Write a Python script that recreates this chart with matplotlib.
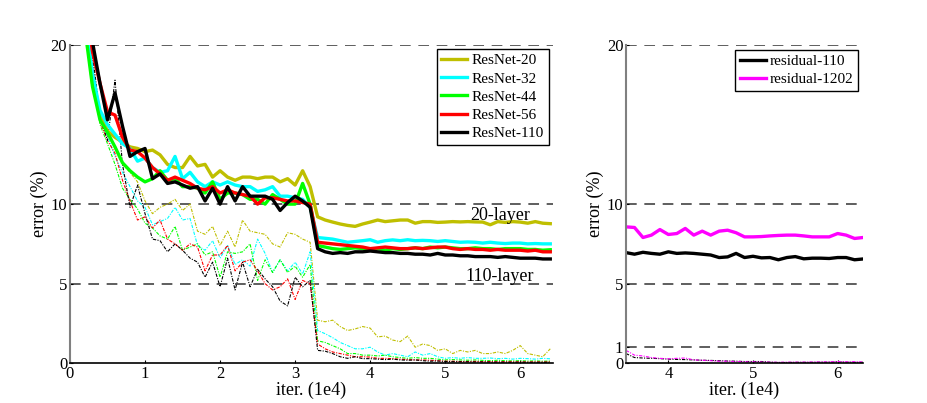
import numpy as np
import matplotlib
matplotlib.use('Agg')
import matplotlib.pyplot as plt

plt.rcParams['font.family'] = ['Liberation Serif', 'DejaVu Serif']

# iterations (1e4), one sample every 1000 iters
iters = np.round(np.arange(0.2, 6.41, 0.1), 1)

# test error (%) - thick lines
test_20 = [22, 17.6, 15.7, 14.6, 14.2, 13.9, 13.6, 13.5, 13.3, 13.4, 13.1, 12.5, 12.3, 12.3, 13.0,
           12.4, 12.5, 11.7, 12.1, 11.7, 11.5, 11.7, 11.7, 11.6, 11.7, 11.7, 11.4, 11.6, 11.2, 12.1,
           11.1, 9.2, 9.0, 8.87, 8.75, 8.66, 8.6, 8.75, 8.87, 9.0, 8.9, 8.95, 9.0, 9.0, 8.8, 8.9,
           8.9, 8.85, 8.87, 8.9, 8.88, 8.9, 8.88, 8.87, 8.7, 8.9, 8.85, 8.9, 8.87, 8.8, 8.9, 8.8, 8.77]
test_32 = [22, 18.2, 15.9, 15.0, 14.4, 13.8, 13.5, 12.7, 12.9, 12.3, 12.0, 12.1, 13.0, 11.6, 12.0,
           11.4, 11.1, 11.4, 11.2, 11.4, 11.2, 11.1, 11.1, 10.8, 10.9, 11.1, 10.5, 10.5, 10.4, 10.3,
           9.8, 7.9, 7.85, 7.8, 7.7, 7.6, 7.65, 7.7, 7.76, 7.6, 7.7, 7.75, 7.7, 7.76, 7.7, 7.72,
           7.7, 7.65, 7.7, 7.65, 7.6, 7.62, 7.6, 7.55, 7.6, 7.55, 7.52, 7.55, 7.55, 7.5, 7.52, 7.5, 7.5]
test_44 = [21, 17.4, 15.3, 14.5, 13.6, 12.6, 12.1, 11.7, 11.4, 11.6, 12.1, 11.5, 11.6, 11.1, 11.1,
           11.0, 10.7, 11.4, 10.3, 10.7, 10.7, 10.6, 10.3, 10.3, 10.0, 10.6, 10.3, 10.0, 10.0, 11.3,
           10.0, 7.4, 7.3, 7.2, 7.15, 7.2, 7.25, 7.2, 7.15, 7.2, 7.1, 7.2, 7.15, 7.2, 7.25, 7.2,
           7.3, 7.25, 7.3, 7.25, 7.2, 7.2, 7.25, 7.2, 7.2, 7.15, 7.2, 7.2, 7.2, 7.15, 7.15, 7.1, 7.13]
test_56 = [23, 19.6, 17.6, 15.8, 15.6, 14.2, 13.4, 13.3, 12.9, 12.3, 11.9, 11.5, 11.7, 11.5, 11.3,
           11.0, 10.9, 11.1, 10.7, 10.9, 10.7, 10.6, 10.5, 10.0, 10.4, 10.4, 10.3, 10.2, 10.2, 10.1,
           10.0, 7.6, 7.55, 7.5, 7.45, 7.4, 7.35, 7.3, 7.2, 7.25, 7.3, 7.25, 7.2, 7.2, 7.25, 7.2,
           7.25, 7.3, 7.3, 7.2, 7.15, 7.2, 7.15, 7.15, 7.1, 7.15, 7.1, 7.1, 7.1, 7.05, 7.1, 7.0, 7.0]
test_110 = [24, 20.2, 17.6, 15.3, 17.0, 14.9, 13.0, 13.3, 13.5, 11.6, 11.9, 11.3, 11.4, 11.2, 11.0,
            11.1, 10.2, 11.0, 10.0, 11.1, 10.2, 11.1, 10.5, 10.5, 10.5, 10.3, 9.6, 10.1, 10.5, 10.2,
            9.8, 7.2, 7.0, 6.9, 6.95, 6.9, 7.0, 7.0, 7.05, 7.0, 6.95, 6.95, 6.9, 6.9, 6.85, 6.85,
            6.8, 6.9, 6.8, 6.8, 6.75, 6.75, 6.7, 6.7, 6.7, 6.65, 6.7, 6.65, 6.6, 6.6, 6.6, 6.55, 6.55]

# training error (%) - thin dash-dot lines
train_20 = [22, 18.8, 15.8, 14.5, 13.5, 12.5, 12.0, 11.4, 10.2, 9.4, 9.8, 10.0, 10.3, 9.6, 10.0,
            8.3, 8.1, 8.6, 7.4, 8.3, 7.3, 9.0, 8.3, 8.2, 8.1, 7.5, 7.3, 8.2, 8.1, 7.8,
            7.6, 2.7, 2.6, 2.7, 2.3, 2.05, 2.15, 2.3, 2.2, 1.65, 1.7, 1.45, 1.35, 1.7, 1.0, 1.2,
            1.1, 0.8, 0.9, 0.6, 0.8, 0.7, 0.8, 0.6, 0.6, 0.7, 0.6, 0.8, 1.1, 0.6, 0.5, 0.4, 0.9]
train_32 = [22, 18.5, 15.5, 14.3, 13.0, 12.0, 11.1, 10.2, 9.8, 8.7, 8.9, 9.1, 9.8, 9.0, 9.1,
            7.4, 7.1, 7.7, 6.6, 7.4, 6.2, 6.5, 6.1, 7.8, 6.9, 5.7, 6.5, 5.8, 6.35, 5.6,
            7.0, 2.05, 1.85, 1.6, 1.3, 1.1, 0.9, 0.9, 1.0, 0.7, 0.5, 0.6, 0.5, 0.4, 0.7, 0.5,
            0.6, 0.4, 0.3, 0.35, 0.3, 0.35, 0.3, 0.3, 0.32, 0.28, 0.3, 0.25, 0.3, 0.28, 0.25, 0.3, 0.27]
train_44 = [21, 18.0, 15.0, 13.8, 12.5, 11.0, 10.3, 9.7, 8.8, 8.5, 8.0, 7.8, 8.6, 7.1, 7.3,
            7.5, 6.8, 7.0, 5.4, 7.0, 6.9, 7.0, 7.5, 5.2, 6.5, 5.7, 6.5, 5.7, 6.1, 5.4,
            6.2, 1.4, 1.3, 1.1, 0.9, 0.6, 0.6, 0.5, 0.5, 0.45, 0.5, 0.4, 0.35, 0.3, 0.35, 0.3,
            0.3, 0.25, 0.2, 0.22, 0.2, 0.18, 0.2, 0.17, 0.15, 0.18, 0.15, 0.14, 0.15, 0.13, 0.14, 0.12, 0.13]
train_56 = [23, 19.0, 15.2, 14.0, 13.2, 11.5, 10.2, 9.0, 9.2, 8.5, 9.0, 7.8, 7.5, 7.1, 7.5,
            7.3, 5.8, 6.8, 6.8, 7.4, 5.8, 6.35, 6.5, 5.8, 5.0, 4.6, 4.8, 5.3, 4.0, 5.2,
            5.0, 1.2, 0.9, 0.7, 0.6, 0.5, 0.4, 0.4, 0.38, 0.3, 0.3, 0.28, 0.25, 0.22, 0.2, 0.2,
            0.18, 0.15, 0.12, 0.12, 0.1, 0.1, 0.11, 0.09, 0.1, 0.08, 0.09, 0.08, 0.08, 0.07, 0.08, 0.07, 0.08]
train_110 = [24, 19.5, 15.5, 14.0, 17.8, 12.5, 9.8, 11.2, 9.4, 7.8, 7.7, 7.0, 7.5, 7.1, 6.6,
             6.35, 5.4, 6.35, 4.8, 6.6, 4.6, 6.35, 4.8, 5.9, 5.3, 4.8, 3.9, 3.6, 5.4, 4.8,
             5.2, 0.8, 0.75, 0.6, 0.4, 0.3, 0.4, 0.28, 0.28, 0.25, 0.22, 0.25, 0.2, 0.18, 0.2, 0.15,
             0.12, 0.13, 0.1, 0.09, 0.08, 0.08, 0.07, 0.07, 0.06, 0.06, 0.06, 0.05, 0.06, 0.05, 0.05, 0.05, 0.05]

# right panel: 110 vs 1202 layers
iters_r = np.round(np.arange(3.5, 6.31, 0.1), 1)
test_r110 = [6.95, 6.85, 6.97, 6.9, 6.85, 7.0, 6.9, 6.93, 6.9, 6.85, 6.8, 6.64, 6.68, 6.9, 6.64,
             6.72, 6.62, 6.64, 6.5, 6.64, 6.7, 6.56, 6.6, 6.6, 6.58, 6.64, 6.64, 6.5, 6.55]
test_r1202 = [8.57, 8.53, 7.9, 8.05, 8.4, 8.09, 8.15, 8.47, 8.05, 8.3, 8.05, 8.3, 8.36, 8.2, 7.94,
              7.94, 7.96, 8.0, 8.03, 8.05, 8.05, 8.0, 7.94, 7.94, 7.94, 8.15, 8.05, 7.84, 7.9]
train_r110 = [0.6, 0.35, 0.32, 0.3, 0.28, 0.25, 0.23, 0.22, 0.2, 0.18, 0.17, 0.15, 0.13, 0.12, 0.1,
              0.1, 0.1, 0.06, 0.04, 0.04, 0.05, 0.05, 0.05, 0.06, 0.06, 0.08, 0.06, 0.05, 0.05]
train_r1202 = [0.8, 0.5, 0.45, 0.35, 0.3, 0.27, 0.3, 0.32, 0.2, 0.18, 0.15, 0.12, 0.12, 0.1, 0.08,
               0.08, 0.07, 0.06, 0.05, 0.06, 0.06, 0.06, 0.07, 0.07, 0.08, 0.1, 0.08, 0.09, 0.07]

names = ['ResNet-20', 'ResNet-32', 'ResNet-44', 'ResNet-56', 'ResNet-110']
colors = ['#bfbf00', '#00ffff', '#00ff00', '#ff0000', '#000000']
tests = [test_20, test_32, test_44, test_56, test_110]
trains = [train_20, train_32, train_44, train_56, train_110]

dashdot = (0, (3, 1.2, 1, 1.2))


def style_axes(ax, yticks):
    ax.set_ylim(0, 20)
    ax.set_yticks(yticks)
    for t in yticks:
        if t > 0:
            ax.axhline(t, color='#333333', lw=1.1, ls=(0, (7, 5)), zorder=0)
    ax.spines['top'].set_visible(False)
    ax.spines['right'].set_visible(False)
    ax.spines['left'].set_color('#808080')
    ax.spines['left'].set_linewidth(1.5)
    ax.spines['bottom'].set_linewidth(1.2)
    ax.tick_params(direction='in', length=2, labelsize=12, pad=2)
    ax.set_xlabel('iter. (1e4)', fontsize=13, labelpad=0)
    ax.set_ylabel('error (%)', fontsize=13, labelpad=2)


def add_legend(ax, pad):
    leg = ax.legend(loc='upper right', fontsize=11, fancybox=False, framealpha=1,
                    edgecolor='black', borderaxespad=pad, handlelength=1.7,
                    handletextpad=0.3, labelspacing=0.3, borderpad=0.3)
    leg.get_frame().set_linewidth(1.0)


fig = plt.figure(figsize=(9.28, 4.03), dpi=100)
ax1 = fig.add_axes([0.0754, 0.099, 0.520, 0.789])
ax2 = fig.add_axes([0.6746, 0.099, 0.2554, 0.789])

# left panel
for tr, c in zip(trains, colors):
    ax1.plot(iters, tr, color=c, lw=0.8, ls=dashdot)
for te, c, n in zip(tests, colors, names):
    ax1.plot(iters, te, color=c, lw=2.4, label=n)
ax1.set_xlim(0, 6.43)
ax1.set_xticks([0, 1, 2, 3, 4, 5, 6])
style_axes(ax1, [0, 5, 10, 20])
ax1.text(5.73, 9.3, '20-layer', fontsize=13, ha='center', va='center')
ax1.text(5.72, 5.42, '110-layer', fontsize=13, ha='center', va='center')
add_legend(ax1, 0.25)

# right panel
ax2.plot(iters_r, train_r110, color='black', lw=0.8, ls=dashdot)
ax2.plot(iters_r, train_r1202, color='#ff00ff', lw=0.8, ls=dashdot)
ax2.plot(iters_r, test_r110, color='black', lw=2.4, label='residual-110')
ax2.plot(iters_r, test_r1202, color='#ff00ff', lw=2.4, label='residual-1202')
ax2.set_xlim(3.5, 6.3)
ax2.set_xticks([4, 5, 6])
style_axes(ax2, [0, 1, 5, 10, 20])
add_legend(ax2, 0.3)

fig.savefig('out.png', dpi=100)
